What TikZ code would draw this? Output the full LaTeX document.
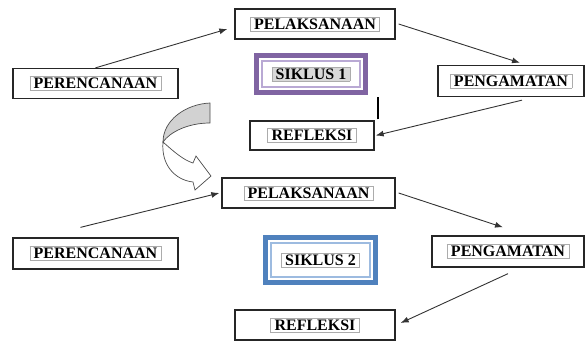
\documentclass[tikz,border=0pt]{standalone}
\usepackage{fontspec}
\setmainfont{Liberation Serif}
\usepackage{xcolor}
\usetikzlibrary{arrows.meta,calc}

\definecolor{sikpurple}{HTML}{8064A2}
\definecolor{sikpurplel}{HTML}{B9A9D4}
\definecolor{sikblue}{HTML}{4F81BD}
\definecolor{sikbluel}{HTML}{9DBBE0}

% thin frame round each label
\newcommand{\lblframe}[2][white]{{\fboxsep=1.5pt\fboxrule=0.6pt\fcolorbox{gray!65}{#1}{\hspace{2pt}#2\hspace{2pt}}}}

\begin{document}
\begin{tikzpicture}[
    x=1pt, y=-1pt,
    stage/.style={rectangle, draw=black!85, line width=1.3pt, fill=white, inner sep=0pt, minimum height=30pt, font=\bfseries\fontsize{16}{18}\selectfont},
    cycle/.style={rectangle, draw=#1, line width=5pt, fill=white, inner sep=0pt, font=\bfseries\fontsize{16}{18}\selectfont,
        path picture={\draw [#1l, line width=2pt] ([shift={(5.5pt,5.5pt)}]path picture bounding box.south west) rectangle ([shift={(-5.5pt,-5.5pt)}]path picture bounding box.north east);}},
    flow/.style={-{Latex[length=8pt,width=6pt]}, line width=0.9pt, draw=black!80}
]
    \useasboundingbox (0,0) rectangle (585,346);

    % first cycle
    \node [stage, minimum width=160pt] (pl1) at (315,24) {\lblframe{PELAKSANAAN}};
    \node [stage, minimum width=165pt] (pr1) at (95.5,83.5) {\lblframe{PERENCANAAN}};
    \node [cycle=sikpurple, minimum width=109pt, minimum height=37pt] (sk1) at (311,74) {\lblframe[gray!30]{SIKLUS 1}};
    \node [stage, minimum width=146pt, minimum height=31pt] (pg1) at (511,81) {\lblframe{PENGAMATAN}};
    \node [stage, minimum width=124pt, minimum height=29pt] (rf1) at (312,135.5) {\lblframe{REFLEKSI}};

    \draw [flow] (pr1.north) -- ([shift={(-7pt,-5pt)}]pl1.west);
    \draw [flow] ([xshift=3pt]pl1.east) -- ([shift={(9pt,2pt)}]pg1.north);
    \draw [flow] ([shift={(11pt,-3pt)}]pg1.south) -- ([xshift=1pt]rf1.east);
    \draw [line width=1.8pt] ([shift={(3pt,1pt)}]rf1.north east) -- ++(0,-22);

    % curved arrow to the second cycle
    \draw [black!70, fill=gray!35, line width=0.7pt] (210,103) .. controls (186,104) and (163,120) .. (163,142)
        .. controls (170,132) and (188,123) .. (210,123) -- cycle;
    \draw [black!70, fill=white, line width=0.7pt] (163,142) .. controls (172,150) and (183,160) .. (193,163)
        -- (196,156) -- (211,176) -- (195,190) -- (193,182)
        .. controls (175,180) and (161,165) .. (163,142) -- cycle;

    % second cycle
    \node [stage, minimum width=173pt] (pl2) at (308.5,193) {\lblframe{PELAKSANAAN}};
    \node [stage, minimum width=165pt, minimum height=31pt] (pr2) at (95.5,253.5) {\lblframe{PERENCANAAN}};
    \node [cycle=sikblue, minimum width=110pt, minimum height=45pt] (sk2) at (320.5,260) {\lblframe{SIKLUS 2}};
    \node [stage, minimum width=152pt, minimum height=31pt] (pg2) at (508,251.5) {\lblframe{PENGAMATAN}};
    \node [stage, minimum width=160pt] (rf2) at (315,325) {\lblframe{REFLEKSI}};

    \draw [flow] ([shift={(-15pt,10pt)}]pr2.north) -- ([xshift=-2pt]pl2.west);
    \draw [flow] ([xshift=3pt]pl2.east) -- ([shift={(-5pt,8pt)}]pg2.north);
    \draw [flow] ([shift={(0pt,-6pt)}]pg2.south) -- ([shift={(5pt,2pt)}]rf2.east);
\end{tikzpicture}
\end{document}
